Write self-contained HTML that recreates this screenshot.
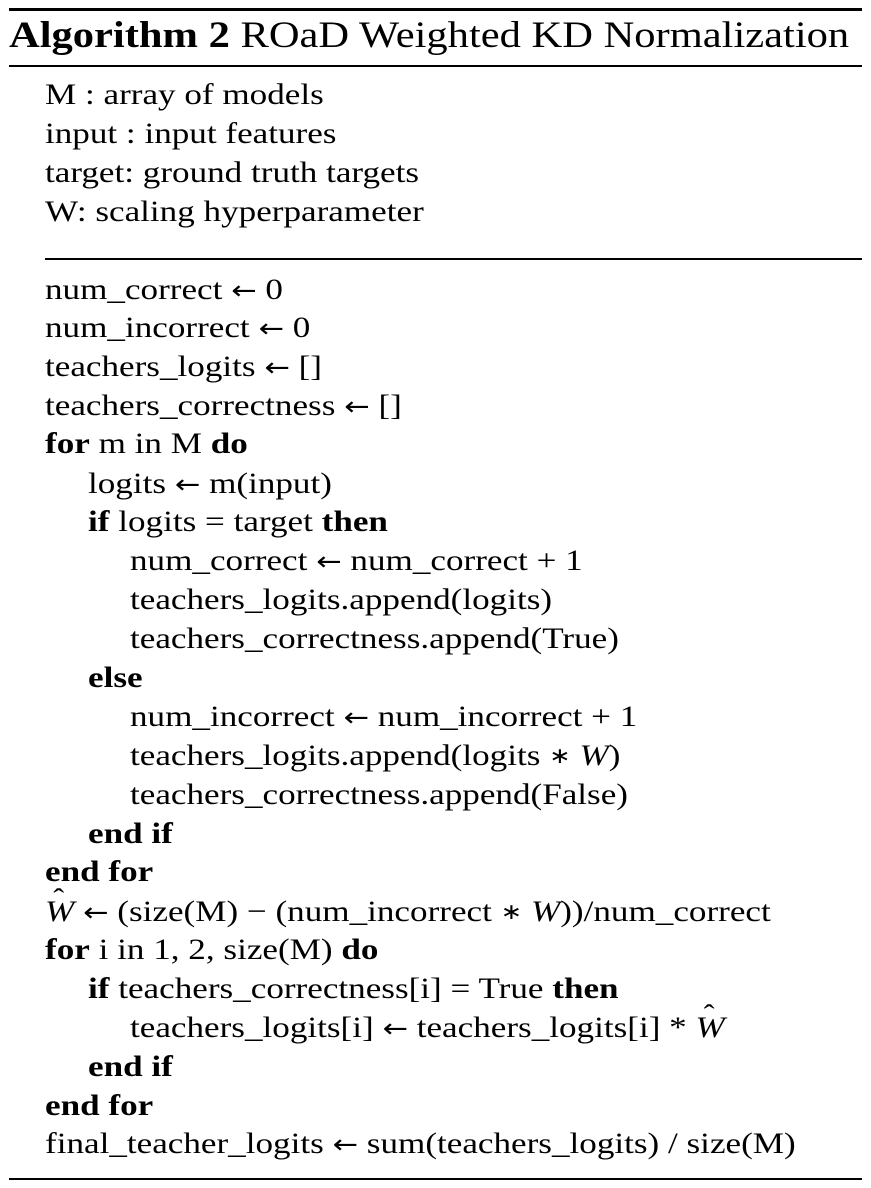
<!DOCTYPE html>
<html><head><meta charset="utf-8"><style>
body{margin:0;background:#fff;width:871px;height:1188px;position:relative;overflow:hidden;font-family:"Liberation Serif",serif;color:#000}
.r{position:absolute;left:9px;width:853px;background:#000}
.l{position:absolute;font-size:30px;line-height:39px;height:39px;white-space:nowrap;transform:scaleX(1.17);transform-origin:0 0}
b{font-weight:bold}
i{font-style:italic}
.a{font-family:"DejaVu Sans",sans-serif;font-size:26px}
.s{font-size:22px;position:relative;top:-2px}
.h{position:relative;display:inline-block}
.h:before{content:"ˆ";position:absolute;left:7px;top:-12px;font-style:normal;font-size:28px}
</style></head><body>
<div class="r" style="top:8px;height:3px"></div>
<div class="l" style="left:9px;top:14px;font-size:36.5px;line-height:42px;height:42px;transform:scaleX(1.165)"><b>Algorithm 2</b> ROaD Weighted KD Normalization</div>
<div class="r" style="top:65px;height:1.5px"></div>
<div class="l" style="left:45px;top:75px">M : array of models</div>
<div class="l" style="left:45px;top:114px">input : input features</div>
<div class="l" style="left:45px;top:153px">target: ground truth targets</div>
<div class="l" style="left:45px;top:192px">W: scaling hyperparameter</div>
<div class="r" style="top:258px;left:45px;width:817px;height:1.5px"></div>
<div class="l" style="left:45px;top:270px">num_correct <span class="a">←</span> 0</div>
<div class="l" style="left:45px;top:308px">num_incorrect <span class="a">←</span> 0</div>
<div class="l" style="left:45px;top:347px">teachers_logits <span class="a">←</span> []</div>
<div class="l" style="left:45px;top:386px">teachers_correctness <span class="a">←</span> []</div>
<div class="l" style="left:45px;top:424px"><b>for</b> m in M <b>do</b></div>
<div class="l" style="left:88px;top:464px">logits <span class="a">←</span> m(input)</div>
<div class="l" style="left:88px;top:502px"><b>if</b> logits = target <b>then</b></div>
<div class="l" style="left:130px;top:541px">num_correct <span class="a">←</span> num_correct + 1</div>
<div class="l" style="left:130px;top:580px">teachers_logits.append(logits)</div>
<div class="l" style="left:130px;top:619px">teachers_correctness.append(True)</div>
<div class="l" style="left:88px;top:658px"><b>else</b></div>
<div class="l" style="left:130px;top:697px">num_incorrect <span class="a">←</span> num_incorrect + 1</div>
<div class="l" style="left:130px;top:736px">teachers_logits.append(logits <span class="s">∗</span> <i>W</i>)</div>
<div class="l" style="left:130px;top:775px">teachers_correctness.append(False)</div>
<div class="l" style="left:88px;top:814px"><b>end if</b></div>
<div class="l" style="left:45px;top:852px"><b>end for</b></div>
<div class="l" style="left:45px;top:892px"><i class="h">W</i> <span class="a">←</span> (size(M) − (num_incorrect <span class="s">∗</span> <i>W</i>))/num_correct</div>
<div class="l" style="left:45px;top:930px"><b>for</b> i in 1, 2, size(M) <b>do</b></div>
<div class="l" style="left:88px;top:969px"><b>if</b> teachers_correctness[i] = True <b>then</b></div>
<div class="l" style="left:130px;top:1008px">teachers_logits[i] <span class="a">←</span> teachers_logits[i] * <i class="h">W</i></div>
<div class="l" style="left:88px;top:1047px"><b>end if</b></div>
<div class="l" style="left:45px;top:1086px"><b>end for</b></div>
<div class="l" style="left:45px;top:1124px">final_teacher_logits <span class="a">←</span> sum(teachers_logits) / size(M)</div>
<div class="r" style="top:1178px;height:2px"></div>
</body></html>
